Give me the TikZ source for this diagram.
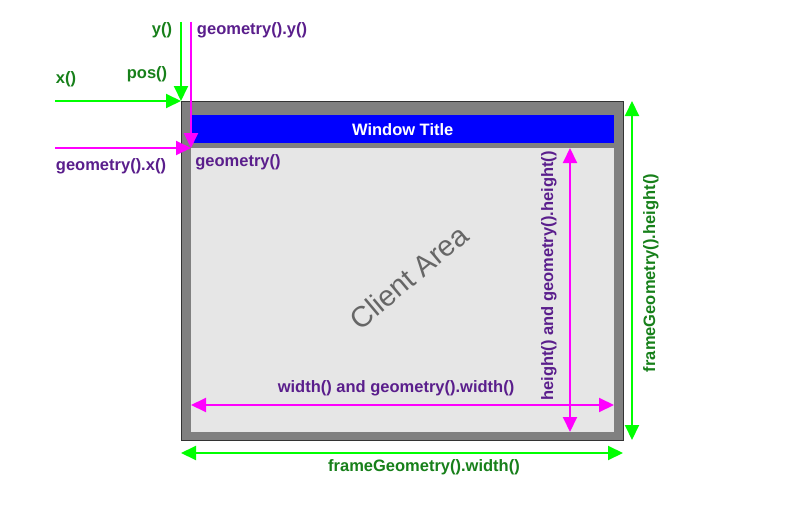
\documentclass[tikz,border=0pt]{standalone}
\usepackage{fontspec}
\setmainfont{Liberation Sans}
\usetikzlibrary{arrows.meta}
\definecolor{brgreen}{HTML}{00FF00}
\definecolor{lblgreen}{HTML}{17801A}
\definecolor{lblpurple}{HTML}{5A1E8C}
\definecolor{mag}{HTML}{FF00FF}
\definecolor{framegray}{HTML}{808080}
\definecolor{clientgray}{HTML}{E6E6E6}
\definecolor{titleblue}{HTML}{0000FF}
\tikzset{
  tip/.tip={Triangle[length=15pt,width=14pt]},
  garrow/.style={draw=brgreen,line width=2pt},
  marrow/.style={draw=mag,line width=2pt},
  glabel/.style={text=lblgreen,font=\bfseries\fontsize{16.5}{19}\selectfont,inner sep=0pt},
  plabel/.style={text=lblpurple,font=\bfseries\fontsize{16.5}{19}\selectfont,inner sep=0pt},
}
\begin{document}
\begin{tikzpicture}[x=1pt,y=-1pt]
\path[use as bounding box,fill=white] (0,0) rectangle (787,511);
% window
\path[fill=framegray,draw=black!80,line width=1pt] (181,101) rectangle (623,440);
\node[fill=titleblue,minimum width=423pt,minimum height=28pt,inner sep=0pt,anchor=north west,
      text=white,font=\bfseries\fontsize{16.5}{19}\selectfont] (title) at (191,115) {Window Title};
\node[fill=clientgray,minimum width=423pt,minimum height=284pt,inner sep=0pt,anchor=north west] (client) at (191,148) {};
\node[text=black!60,font=\fontsize{29}{33}\selectfont,rotate=40,inner sep=0pt] (ca) at (409,277) {Client Area};
% corner coordinates
\coordinate (fTL) at (181,101);
\coordinate (cTL) at (191,148);
\coordinate (xs) at (55,101);
\coordinate (ys) at (181,22);
\coordinate (gys) at (191,22);
\coordinate (gxs) at (55,148);
\coordinate (wl) at (191,405);
\coordinate (wr) at (614,405);
\coordinate (ht) at (570,148);
\coordinate (hb) at (570,432);
\coordinate (fht) at (632,101);
\coordinate (fhb) at (632,440);
\coordinate (fwl) at (181,453);
\coordinate (fwr) at (623,453);
% green pos arrows
\draw[garrow,-{tip[fill=brgreen]}] (xs) -- (fTL);
\draw[garrow,-{tip[fill=brgreen]}] (ys) -- (fTL);
% magenta geometry arrows
\draw[marrow,-{tip[fill=mag]}] (gys) -- (cTL);
\draw[marrow,-{tip[fill=mag]}] (gxs) -- (cTL);
% width / height
\draw[marrow,{tip[fill=mag]}-{tip[fill=mag]}] (wl) -- (wr);
\draw[marrow,{tip[fill=mag]}-{tip[fill=mag]}] (ht) -- (hb);
% frame geometry
\draw[garrow,{tip[fill=brgreen]}-{tip[fill=brgreen]}] (fht) -- (fhb);
\draw[garrow,{tip[fill=brgreen]}-{tip[fill=brgreen]}] (fwl) -- (fwr);
% labels
\node[glabel] (ly) at (162,30) {y()};
\node[glabel] (lx) at (66,79) {x()};
\node[glabel] (lpos) at (147,74) {pos()};
\node[plabel] (lgy) at (252,30) {geometry().y()};
\node[plabel] (lgx) at (111,166) {geometry().x()};
\node[plabel] (lg) at (238,162) {geometry()};
\node[plabel] (lw) at (396,388) {width() and geometry().width()};
\node[plabel,rotate=90] (lh) at (549,276) {height() and geometry().height()};
\node[glabel,rotate=90] (lfh) at (651,273) {frameGeometry().height()};
\node[glabel] (lfw) at (424,467) {frameGeometry().width()};
\end{tikzpicture}
\end{document}
